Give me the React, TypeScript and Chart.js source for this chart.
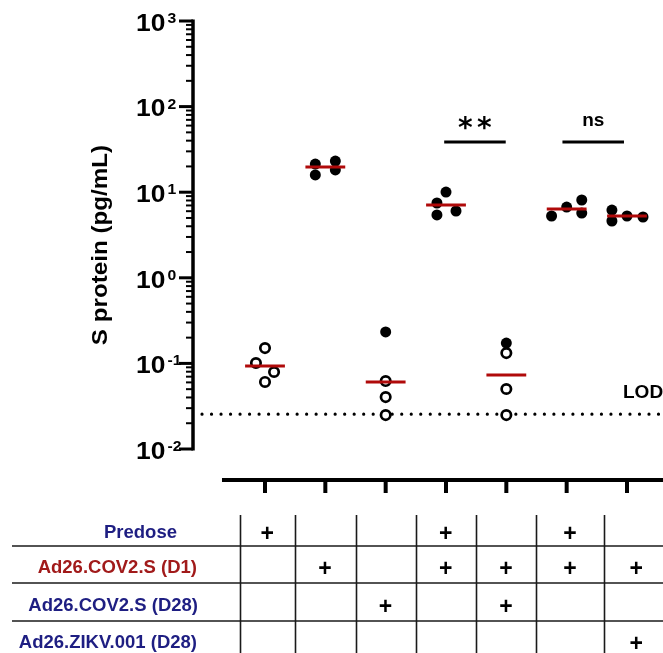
import React, { useEffect, useRef } from "react";
import { Chart, registerables } from "chart.js";

Chart.register(...registerables);

// ---- data ----
const groupPositions = [1, 2, 3, 4, 5, 6, 7];

const filledValues: number[][] = [
  [],
  [21.3, 15.9, 23.1, 18.2],
  [0.233],
  [7.48, 10.05, 6.03, 5.42],
  [0.173],
  [5.27, 6.71, 8.11, 5.71],
  [6.19, 4.61, 5.27, 5.13],
];
const filledJitter: number[][] = [
  [],
  [-0.166, -0.166, 0.166, 0.166],
  [0],
  [-0.15, 0, 0.166, -0.15],
  [0],
  [-0.25, 0, 0.25, 0.25],
  [-0.25, -0.25, 0, 0.265],
];
const openValues: number[][] = [
  [0.151, 0.101, 0.0794, 0.0607],
  [],
  [0.0622, 0.0404, 0.0249],
  [],
  [0.132, 0.0502, 0.0249],
  [],
  [],
];
const openJitter: number[][] = [
  [0, -0.15, 0.15, 0],
  [],
  [0, 0, 0],
  [],
  [0, 0, 0],
  [],
  [],
];
const geoMeanValues = [0.0933, 19.7, 0.0607, 7.08, 0.0731, 6.37, 5.27];
const lodValue = 0.0255;
const lodLabel = "LOD";

const yMajorValues = [1000, 100, 10, 1, 0.1, 0.01];
const yMajorExponents = ["3", "2", "1", "0", "-1", "-2"];
const yTitle = "S protein (pg/mL)";

const sigFrom = [3.97, 5.93];
const sigTo = [4.99, 6.95];
const sigLabels = ["**", "ns"];
const sigLevel = 38.5;

const rowLabels = ["Predose", "Ad26.COV2.S (D1)", "Ad26.COV2.S (D28)", "Ad26.ZIKV.001 (D28)"];
const rowColors = ["#1e1e82", "#a11a1a", "#1e1e82", "#1e1e82"];
const tableMarks = [
  [1, 0, 0, 1, 0, 1, 0],
  [0, 1, 0, 1, 1, 1, 1],
  [0, 0, 1, 0, 1, 0, 0],
  [0, 0, 0, 0, 0, 0, 1],
];
const columnBounds = [0.586, 1.5, 2.5, 3.5, 4.5, 5.5, 6.619, 7.7];

// ---- layout constants ----
const W = 663;
const H = 653;
const FONT = '"Liberation Sans", Arial, Helvetica, sans-serif';
const X_MIN = -0.1934;
const X_MAX = 7.5967;
const HALF_MEAN = 0.33;

function stretchedText(ctx: CanvasRenderingContext2D, text: string, x: number, y: number, sx: number, align: CanvasTextAlign) {
  ctx.save();
  ctx.translate(x, y);
  ctx.scale(sx, 1);
  ctx.textAlign = align;
  ctx.fillText(text, 0, 0);
  ctx.restore();
}

function centeredGlyph(ctx: CanvasRenderingContext2D, text: string, cx: number, cy: number) {
  ctx.textAlign = "left";
  ctx.textBaseline = "alphabetic";
  const m = ctx.measureText(text);
  const asc = m.actualBoundingBoxAscent;
  const desc = m.actualBoundingBoxDescent;
  const left = m.actualBoundingBoxLeft;
  const right = m.actualBoundingBoxRight;
  ctx.fillText(text, cx - (right - left) / 2, cy + (asc - desc) / 2);
}

const decorPlugin = {
  id: "decor",
  afterDraw(chart: any) {
    const ctx: CanvasRenderingContext2D = chart.ctx;
    const xs = chart.scales.x;
    const ys = chart.scales.y;
    const area = chart.chartArea;
    ctx.save();
    ctx.fillStyle = "#000";
    ctx.strokeStyle = "#000";
    ctx.lineCap = "butt";

    // Y axis line
    const ax = area.left;
    ctx.lineWidth = 3.5;
    ctx.beginPath();
    ctx.moveTo(ax, ys.getPixelForValue(1000) - 1.5);
    ctx.lineTo(ax, ys.getPixelForValue(0.01) + 1.5);
    ctx.stroke();

    // major + minor ticks
    yMajorValues.forEach((v) => {
      const y = ys.getPixelForValue(v);
      ctx.lineWidth = 3;
      ctx.beginPath();
      ctx.moveTo(ax - 14, y);
      ctx.lineTo(ax, y);
      ctx.stroke();
      if (v < 1000) {
        for (let m = 2; m <= 9; m++) {
          const yy = ys.getPixelForValue(v * m);
          ctx.lineWidth = 2;
          ctx.beginPath();
          ctx.moveTo(ax - 7, yy);
          ctx.lineTo(ax, yy);
          ctx.stroke();
        }
      }
    });

    // tick labels 10^k
    yMajorValues.forEach((v, i) => {
      const y = ys.getPixelForValue(v);
      ctx.textBaseline = "alphabetic";
      ctx.font = `bold 24px ${FONT}`;
      stretchedText(ctx, "10", 136, y + 9.8, 1.1, "left");
      ctx.font = `bold 15px ${FONT}`;
      stretchedText(ctx, yMajorExponents[i], 167.5, y + 2, 1.05, "left");
    });

    // Y title
    ctx.save();
    ctx.translate(101, 245);
    ctx.rotate(-Math.PI / 2);
    ctx.scale(1.1, 1);
    ctx.font = `bold 22px ${FONT}`;
    ctx.textAlign = "center";
    ctx.textBaseline = "middle";
    ctx.fillText(yTitle, 0, 0);
    ctx.restore();

    // X axis (offset below plot)
    const axisY = area.bottom + 31;
    ctx.lineWidth = 4;
    ctx.beginPath();
    ctx.moveTo(xs.getPixelForValue(0.287), axisY);
    ctx.lineTo(W, axisY);
    ctx.stroke();
    groupPositions.forEach((g) => {
      const x = xs.getPixelForValue(g);
      ctx.beginPath();
      ctx.moveTo(x, axisY);
      ctx.lineTo(x, axisY + 13);
      ctx.stroke();
    });

    // significance labels
    sigLabels.forEach((lab, i) => {
      const cx = (xs.getPixelForValue(sigFrom[i]) + xs.getPixelForValue(sigTo[i])) / 2;
      const barY = ys.getPixelForValue(sigLevel);
      if (lab === "**") {
        ctx.font = `bold 28px "DejaVu Sans", ${FONT}`;
        centeredGlyph(ctx, "*", cx - 9.5, barY - 19);
        centeredGlyph(ctx, "*", cx + 9.5, barY - 19);
      } else {
        ctx.font = `bold 19px ${FONT}`;
        ctx.textAlign = "center";
        ctx.textBaseline = "alphabetic";
        ctx.fillText(lab, cx, barY - 16);
      }
    });

    // LOD label
    ctx.font = `bold 19px ${FONT}`;
    ctx.textAlign = "left";
    ctx.textBaseline = "alphabetic";
    ctx.fillText(lodLabel, 623, ys.getPixelForValue(lodValue) - 16);

    // table grid
    const rowCenters = [532, 567, 605, 642];
    const hLines = [546, 583, 621];
    ctx.strokeStyle = "#1a1a1a";
    ctx.lineWidth = 1.6;
    hLines.forEach((y) => {
      ctx.beginPath();
      ctx.moveTo(12, y);
      ctx.lineTo(W, y);
      ctx.stroke();
    });
    columnBounds.slice(0, columnBounds.length - 1).forEach((b) => {
      const x = Math.round(xs.getPixelForValue(b)) + 0.5;
      ctx.beginPath();
      ctx.moveTo(x, 515);
      ctx.lineTo(x, H);
      ctx.stroke();
    });

    // row labels
    const labelRight = [177, 197, 198, 197];
    rowLabels.forEach((lab, r) => {
      ctx.fillStyle = rowColors[r];
      ctx.font = `bold 18.5px ${FONT}`;
      ctx.textBaseline = "middle";
      ctx.textAlign = "right";
      ctx.fillText(lab, labelRight[r], rowCenters[r] + 1);
    });

    // plus marks
    ctx.fillStyle = "#000";
    ctx.font = `bold 23px ${FONT}`;
    tableMarks.forEach((row, r) => {
      row.forEach((mk, c) => {
        if (!mk) return;
        const cx = (xs.getPixelForValue(columnBounds[c]) + xs.getPixelForValue(columnBounds[c + 1])) / 2;
        centeredGlyph(ctx, "+", cx - 0.5, rowCenters[r]);
      });
    });

    ctx.restore();
  },
};

export default function App() {
  const canvasRef = useRef<HTMLCanvasElement | null>(null);

  useEffect(() => {
    const canvas = canvasRef.current;
    if (!canvas) return;

    const filledData: { x: number; y: number }[] = [];
    const openData: { x: number; y: number }[] = [];
    groupPositions.forEach((g, i) => {
      filledValues[i].forEach((v, j) => filledData.push({ x: g + filledJitter[i][j], y: v }));
      openValues[i].forEach((v, j) => openData.push({ x: g + openJitter[i][j], y: v }));
    });

    const meanSets = groupPositions.map((g, i) => ({
      data: [
        { x: g - HALF_MEAN, y: geoMeanValues[i] },
        { x: g + HALF_MEAN, y: geoMeanValues[i] },
      ],
      showLine: true,
      borderColor: "#b00a0a",
      borderWidth: 3,
      pointRadius: 0,
      borderCapStyle: "butt" as const,
    }));

    const sigSets = sigLabels.map((_, i) => ({
      data: [
        { x: sigFrom[i], y: sigLevel },
        { x: sigTo[i], y: sigLevel },
      ],
      showLine: true,
      borderColor: "#000",
      borderWidth: 3,
      pointRadius: 0,
    }));

    const chart = new Chart(canvas, {
      type: "scatter",
      data: {
        datasets: [
          ...meanSets,
          ...sigSets,
          {
            data: filledData,
            pointRadius: 5.5,
            pointBackgroundColor: "#000",
            pointBorderWidth: 0,
            pointBorderColor: "#000",
          },
          {
            data: openData,
            pointRadius: 4.7,
            pointBackgroundColor: "#fff",
            pointBorderWidth: 2.7,
            pointBorderColor: "#000",
          },
          {
            data: [
              { x: -0.044, y: lodValue },
              { x: X_MAX, y: lodValue },
            ],
            showLine: true,
            borderColor: "#000",
            borderWidth: 3.2,
            borderDash: [0.01, 9.5],
            borderCapStyle: "round" as const,
            pointRadius: 0,
          },
        ] as any,
      },
      options: {
        responsive: false,
        devicePixelRatio: 1,
        animation: false,
        events: [],
        layout: { autoPadding: false, padding: { left: 193, top: 21, right: 0, bottom: H - 449 } },
        scales: {
          x: { type: "linear", min: X_MIN, max: X_MAX, display: false },
          y: { type: "logarithmic", min: 0.01, max: 1000, display: false },
        },
        plugins: {
          legend: { display: false },
          tooltip: { enabled: false },
        },
      },
      plugins: [decorPlugin],
    });

    return () => chart.destroy();
  }, []);

  return (
    <div style={{ position: "fixed", left: 0, top: 0, width: W, height: H, background: "#fff" }}>
      <canvas ref={canvasRef} width={W} height={H} style={{ display: "block", width: W, height: H }} />
    </div>
  );
}
